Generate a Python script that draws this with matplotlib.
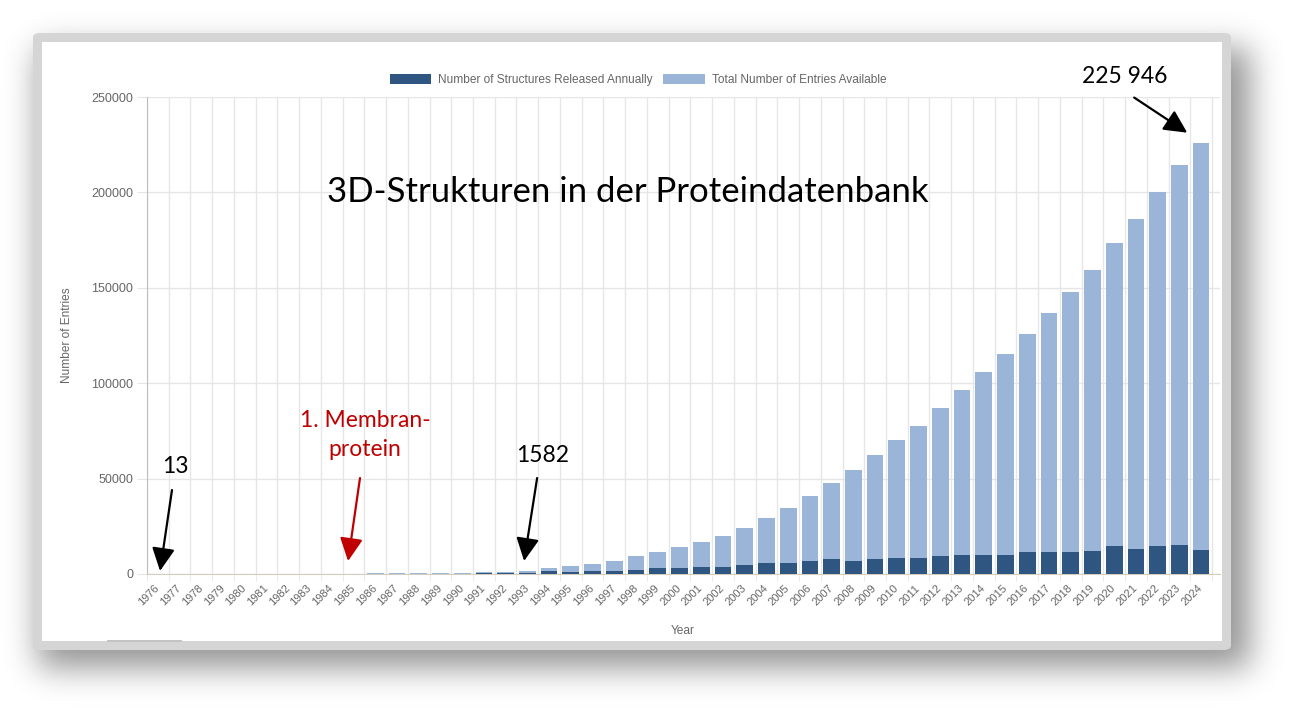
import math
import matplotlib
matplotlib.use("Agg")
import matplotlib.pyplot as plt
import numpy as np
from matplotlib.patches import Patch, FancyBboxPatch, Rectangle

# PDB growth
years = list(range(1976, 2025))
total_entries = [13, 36, 52, 67, 91, 123, 154, 192, 224, 250, 279, 302, 420, 560,
                 720, 890, 1080, 1582, 3300, 4350, 5250, 6990, 9270, 11370, 14000,
                 16620, 19760, 24130, 29200, 34620, 40920, 47900, 54720, 62270,
                 70140, 77640, 87080, 96500, 106000, 115400, 125900, 136900,
                 147900, 159500, 173600, 185900, 200200, 214300, 225946]
released_annually = [13, 23, 16, 15, 24, 32, 31, 38, 32, 26, 29, 23, 180, 200,
                     240, 300, 380, 690, 1720, 1200, 1500, 1750, 2270, 2970, 2970,
                     3500, 3500, 4550, 5600, 5600, 7000, 7700, 7000, 7700, 8200,
                     8200, 9270, 9790, 9790, 9790, 11370, 11370, 11370, 11900,
                     14500, 12940, 14500, 15040, 12410]
yticks = [0, 50000, 100000, 150000, 200000, 250000]

DARK = "#2f5581"
LIGHT = "#9ab5d7"
GRAY_TXT = "#666666"
GRID = "#e6e6e6"

W, H = 1297, 716
fig = plt.figure(figsize=(W / 100, H / 100), dpi=100)
fig.patch.set_facecolor("white")


def fx(px):
    return px / W


def fy(py):
    return 1 - py / H


# blurred drop shadow behind the screenshot frame
erf = np.vectorize(math.erf)
sig = 16 * math.sqrt(2)
px_ = np.arange(W) + 0.5
py_ = np.arange(H) + 0.5
sx = 0.5 * (erf((px_ - 38) / sig) - erf((px_ - 1250) / sig))
sy = 0.5 * (erf((py_ - 48) / sig) - erf((py_ - 668) / sig))
shadow = np.zeros((H, W, 4))
shadow[..., 3] = 0.42 * np.outer(sy, sx)
fig.figimage(shadow, xo=0, yo=0, origin="upper", zorder=-13)

fig.add_artist(FancyBboxPatch((fx(33), fy(650)), fx(1198), 617 / H,
                              boxstyle="round,pad=0,rounding_size=0.006",
                              transform=fig.transFigure, facecolor="#d5d5d5",
                              edgecolor="none", zorder=-11))
fig.add_artist(Rectangle((fx(42), fy(641)), fx(1180), 599 / H,
                         transform=fig.transFigure, facecolor="white",
                         edgecolor="none", zorder=-10))
fig.add_artist(Rectangle((fx(107), fy(642)), fx(75), 2 / H,
                         transform=fig.transFigure, facecolor="#c4c4c4",
                         edgecolor="none", zorder=-9))

ax = fig.add_axes([fx(147), fy(574), fx(1220 - 147), (574 - 97) / H])
ax.set_facecolor("none")

x = np.arange(len(years))
ax.bar(x, total_entries, width=0.77, color=LIGHT, zorder=2)
ax.bar(x, released_annually, width=0.77, color=DARK, zorder=3)

ax.set_xlim(-0.5, len(years) - 0.5 + 8 / 21.73)
ax.set_ylim(0, 250000)

ax.set_xticks(x)
ax.set_xticklabels([str(y) for y in years], rotation=45, ha="right", va="center",
                   rotation_mode="anchor", fontsize=8, color=GRAY_TXT,
                   family="Liberation Sans")
ax.set_xticks(np.arange(-0.5, len(years), 1), minor=True)
ax.tick_params(axis="x", which="major", length=0, pad=9)
ax.tick_params(axis="x", which="minor", length=5, color=GRID)
ax.grid(axis="x", which="minor", color=GRID, lw=1, zorder=0)

ax.set_yticks(yticks)
ax.set_yticklabels([str(v) for v in yticks], fontsize=9, color=GRAY_TXT,
                   family="Liberation Sans")
ax.tick_params(axis="y", length=7, color=GRID, pad=3)
ax.grid(axis="y", color=GRID, lw=1, zorder=0)
ax.set_axisbelow(True)

for s in ["top", "right"]:
    ax.spines[s].set_visible(False)
ax.spines["left"].set_color("#bdbdbd")
ax.spines["bottom"].set_color("#d6ccc0")

ax.set_ylabel("Number of Entries", fontsize=8.6, color=GRAY_TXT,
              family="Liberation Sans")
ax.yaxis.set_label_coords((73 - 147) / (1220 - 147), 0.5)
ax.set_xlabel("Year", fontsize=8.6, color=GRAY_TXT, family="Liberation Sans")
ax.xaxis.set_label_coords((683 - 147) / (1220 - 147), -(625 - 574) / (574 - 97))

handles = [Patch(facecolor=DARK, edgecolor="none",
                 label="Number of Structures Released Annually"),
           Patch(facecolor=LIGHT, edgecolor="none",
                 label="Total Number of Entries Available")]
leg = fig.legend(handles=handles, loc="center", bbox_to_anchor=(fx(638), fy(80)),
                 ncol=2, frameon=False, handlelength=3.5, handleheight=1.0,
                 handletextpad=0.55, columnspacing=0.9,
                 prop={"family": "Liberation Sans", "size": 8.6})
for t in leg.get_texts():
    t.set_color(GRAY_TXT)

# title and annotations placed in the chart (data coordinates)
ax.text(21.61, 195150, "3D-Strukturen in der Proteindatenbank", fontsize=25,
        family="Lato", ha="center", va="baseline", color="black")

arrow_kw = dict(arrowstyle="-|>,head_length=0.7,head_width=0.35", lw=1.6,
                shrinkA=0, shrinkB=0, mutation_scale=20)
ax.text(0.79, 52985, "13", fontsize=16.5, family="Lato", ha="center",
        va="baseline")
ax.annotate("", xy=(0.1, 1600), xytext=(0.65, 44000),
            arrowprops=dict(color="black", **arrow_kw))

ax.text(9.53, 77120, "1. Membran-", fontsize=16.5, family="Lato",
        ha="center", va="baseline", color="#c00000")
ax.text(9.53, 61900, "protein", fontsize=16.5, family="Lato",
        ha="center", va="baseline", color="#c00000")
ax.annotate("", xy=(8.75, 6800), xytext=(9.3, 50300),
            arrowprops=dict(color="#c00000", **arrow_kw))

ax.text(17.68, 58755, "1582", fontsize=16.5, family="Lato", ha="center",
        va="baseline")
ax.annotate("", xy=(16.85, 6800), xytext=(17.45, 50300),
            arrowprops=dict(color="black", **arrow_kw))

ax.text(44.5, 257320, "225 946", fontsize=16.5, family="Lato", ha="center",
        va="baseline")
ax.annotate("", xy=(47.36, 231300), xytext=(44.92, 249700),
            arrowprops=dict(color="black", **arrow_kw), annotation_clip=False)

fig.savefig("out.png", dpi=100)
